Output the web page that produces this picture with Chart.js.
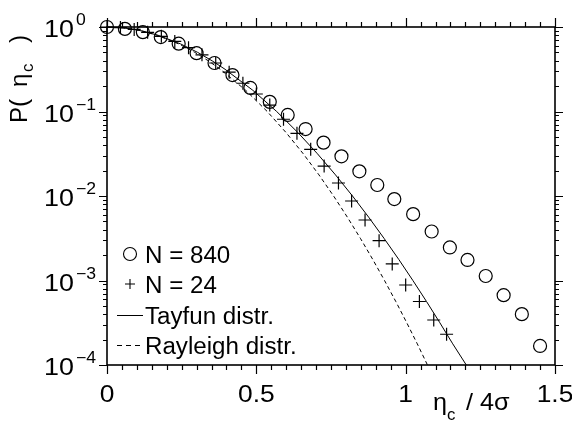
<!DOCTYPE html>
<html><head><meta charset="utf-8">
<script src="https://cdn.jsdelivr.net/npm/chart.js@4/dist/chart.umd.min.js"></script>
<style>html,body{margin:0;padding:0;background:#fff}canvas{display:block}</style>
</head><body>
<canvas id="c" width="572" height="427"></canvas>
<script>
// ---- data ----
const n840X = [0, 0.06, 0.12, 0.18, 0.24, 0.30, 0.36, 0.42, 0.48, 0.545, 0.605, 0.665, 0.725, 0.785, 0.845, 0.905, 0.962, 1.025, 1.087, 1.148, 1.207, 1.268, 1.328, 1.389, 1.45];
const n840P = [1.0, 0.95, 0.87, 0.76, 0.635, 0.49, 0.375, 0.27, 0.19, 0.13, 0.091, 0.062, 0.0428, 0.0295, 0.0196, 0.0135, 0.0092, 0.0061, 0.0038, 0.00246, 0.00175, 0.00113, 0.00067, 0.0004, 0.000168];
const n24X = [0, 0.045, 0.091, 0.136, 0.182, 0.227, 0.273, 0.318, 0.364, 0.409, 0.455, 0.5, 0.545, 0.591, 0.636, 0.682, 0.727, 0.775, 0.819, 0.864, 0.911, 0.955, 1.0, 1.046, 1.094, 1.137];
const n24P = [1.0, 0.984, 0.937, 0.866, 0.775, 0.675, 0.57, 0.469, 0.375, 0.292, 0.216, 0.161, 0.119, 0.081, 0.0552, 0.0357, 0.0226, 0.01425, 0.00873, 0.0052, 0.00296, 0.00157, 0.000885, 0.000564, 0.000341, 0.000231];
const tayfunX = [0, 0.054, 0.0856, 0.1216, 0.1729, 0.2463, 0.3034, 0.352, 0.3952, 0.4884, 0.5681, 0.6394, 0.7046, 0.7651, 0.822, 0.876, 0.9274, 0.9768, 1.0242, 1.0701, 1.1145, 1.1576, 1.203];
const tayfunP = [1, 0.977, 0.944, 0.891, 0.794, 0.631, 0.501, 0.398, 0.316, 0.178, 0.1, 0.0562, 0.0316, 0.01778, 0.01, 0.005623, 0.00316, 0.001778, 0.001, 0.000562, 0.000316, 0.000178, 0.0001];
const rayleighX = [0, 0.0537, 0.0848, 0.12, 0.1697, 0.2399, 0.2939, 0.3393, 0.3793, 0.4646, 0.5365, 0.5998, 0.6571, 0.7097, 0.7587, 0.8047, 0.8483, 0.8897, 0.9292, 0.9672, 1.0037, 1.0389, 1.073];
const rayleighP = [1, 0.977, 0.944, 0.891, 0.794, 0.631, 0.501, 0.398, 0.316, 0.178, 0.1, 0.0562, 0.0316, 0.01778, 0.01, 0.005623, 0.00316, 0.001778, 0.001, 0.000562, 0.000316, 0.000178, 0.0001];
const seriesLabels = ['N = 840', 'N = 24', 'Tayfun distr.', 'Rayleigh distr.'];
const xTickValues = [0, 0.5, 1, 1.5];
const xTickLabels = ['0', '0.5', '1', '1.5'];
const yTickExponents = [0, -1, -2, -3, -4];
const xMinorStep = 0.05;

const pts = (xs, ys) => xs.map((x, i) => ({ x: x, y: ys[i] }));
const FONT = '"Liberation Sans", Arial, sans-serif';

function txt(ctx, s, x, y, size, sx, align) {
  ctx.save();
  ctx.font = size + 'px ' + FONT;
  ctx.textBaseline = 'alphabetic';
  ctx.textAlign = 'left';
  const w = ctx.measureText(s).width * sx;
  let x0 = x;
  if (align === 'center') x0 = x - w / 2; else if (align === 'right') x0 = x - w;
  ctx.translate(x0, y); ctx.scale(sx, 1);
  ctx.fillStyle = '#000';
  ctx.fillText(s, 0, 0);
  ctx.restore();
  return w;
}

const decor = {
  id: 'decor',
  afterDraw(chart) {
    const ctx = chart.ctx, a = chart.chartArea;
    const xs = chart.scales.x, ys = chart.scales.y;
    ctx.save();
    ctx.strokeStyle = '#000';
    ctx.lineWidth = 1.6;
    ctx.strokeRect(a.left, a.top, a.right - a.left, a.bottom - a.top);
    // x ticks (bottom & top, outward)
    ctx.lineWidth = 1.2;
    ctx.beginPath();
    const nX = Math.round((xs.max - xs.min) / xMinorStep);
    for (let i = 0; i <= nX; i++) {
      const v = xs.min + i * xMinorStep;
      const p = Math.round(xs.getPixelForValue(v)) + 0.5;
      const major = xTickValues.some(t => Math.abs(t - v) < 1e-6);
      const len = major ? 9 : 5;
      ctx.moveTo(p, a.bottom); ctx.lineTo(p, a.bottom + len);
      ctx.moveTo(p, a.top); ctx.lineTo(p, a.top - len);
    }
    // y ticks (left & right, outward)
    yTickExponents.forEach(e => {
      const p = Math.round(ys.getPixelForValue(Math.pow(10, e))) + 0.5;
      ctx.moveTo(a.left, p); ctx.lineTo(a.left - 8, p);
      ctx.moveTo(a.right, p); ctx.lineTo(a.right + 8, p);
      if (e < 0) {
        for (let m = 2; m <= 9; m++) {
          const q = Math.round(ys.getPixelForValue(m * Math.pow(10, e))) + 0.5;
          ctx.moveTo(a.left, q); ctx.lineTo(a.left - 4, q);
          ctx.moveTo(a.right, q); ctx.lineTo(a.right + 4, q);
        }
      }
    });
    ctx.stroke();
    // x tick labels
    xTickValues.forEach((v, i) => {
      txt(ctx, xTickLabels[i], xs.getPixelForValue(v), a.bottom + 37, 24, 1.1, 'center');
    });
    // y tick labels 10^e
    yTickExponents.forEach(e => {
      const p = ys.getPixelForValue(Math.pow(10, e));
      const w = txt(ctx, '10', 44, p + 10, 24, 1.12, 'left');
      txt(ctx, e === 0 ? '0' : '\u2212' + (-e), 44 + w + 2, p - 2, 16, 1.1, 'left');
    });
    // x title
    txt(ctx, '\u03b7', 433, a.bottom + 45, 24, 1.05, 'left');
    txt(ctx, 'c', 447, a.bottom + 55, 16, 1.05, 'left');
    txt(ctx, '/ 4\u03c3', 466, a.bottom + 45, 24, 1.05, 'left');
    // y title (rotated)
    ctx.save();
    ctx.translate(27, 123);
    ctx.rotate(-Math.PI / 2);
    txt(ctx, 'P(', 0, 0, 23, 1.05, 'left');
    txt(ctx, '\u03b7', 36, 0, 23, 1.05, 'left');
    txt(ctx, 'c', 51, 6, 16, 1.05, 'left');
    txt(ctx, ')', 80, 0, 23, 1.05, 'left');
    ctx.restore();
    // legend
    const ds = chart.data.datasets;
    const rows = [254, 284, 315, 345];
    const lx = 130, tx = 145;
    ctx.lineWidth = 1.1;
    ctx.strokeStyle = '#000';
    ctx.beginPath(); ctx.arc(lx, rows[0], 6.5, 0, Math.PI * 2); ctx.stroke();
    ctx.beginPath();
    ctx.moveTo(lx - 5, rows[1]); ctx.lineTo(lx + 5, rows[1]);
    ctx.moveTo(lx, rows[1] - 5); ctx.lineTo(lx, rows[1] + 5);
    ctx.stroke();
    ctx.lineWidth = 1;
    ctx.beginPath(); ctx.moveTo(117, rows[2] + 0.5); ctx.lineTo(143, rows[2] + 0.5); ctx.stroke();
    ctx.setLineDash([5, 4]);
    ctx.beginPath(); ctx.moveTo(117, rows[3] + 0.5); ctx.lineTo(143, rows[3] + 0.5); ctx.stroke();
    ctx.setLineDash([]);
    ds.forEach((d, i) => txt(ctx, d.label, tx, rows[i] + 9, 23, 1.05, 'left'));
    ctx.restore();
  }
};

new Chart(document.getElementById('c'), {
  type: 'scatter',
  data: {
    datasets: [
      { label: seriesLabels[0], data: pts(n840X, n840P), showLine: false, pointStyle: 'circle', pointRadius: 6.5, pointHoverRadius: 6.5, borderColor: '#000', backgroundColor: 'rgba(0,0,0,0)', borderWidth: 1.2, clip: false },
      { label: seriesLabels[1], data: pts(n24X, n24P), showLine: false, pointStyle: 'cross', pointRadius: 6.5, pointHoverRadius: 6.5, borderColor: '#000', backgroundColor: 'rgba(0,0,0,0)', borderWidth: 1.2, clip: false },
      { label: seriesLabels[2], data: pts(tayfunX, tayfunP), showLine: true, pointRadius: 0, borderColor: '#000', borderWidth: 1, tension: 0, fill: false },
      { label: seriesLabels[3], data: pts(rayleighX, rayleighP), showLine: true, pointRadius: 0, borderColor: '#000', borderWidth: 1, borderDash: [4, 3], tension: 0, fill: false }
    ]
  },
  options: {
    responsive: false,
    animation: false,
    devicePixelRatio: 1,
    layout: { padding: { left: 107, right: 17, top: 27, bottom: 62 } },
    plugins: { legend: { display: false }, tooltip: { enabled: false }, title: { display: false } },
    scales: {
      x: { type: 'linear', min: 0, max: 1.5, display: false },
      y: { type: 'logarithmic', min: 0.0001, max: 1, display: false }
    }
  },
  plugins: [decor]
});
</script>
</body></html>
